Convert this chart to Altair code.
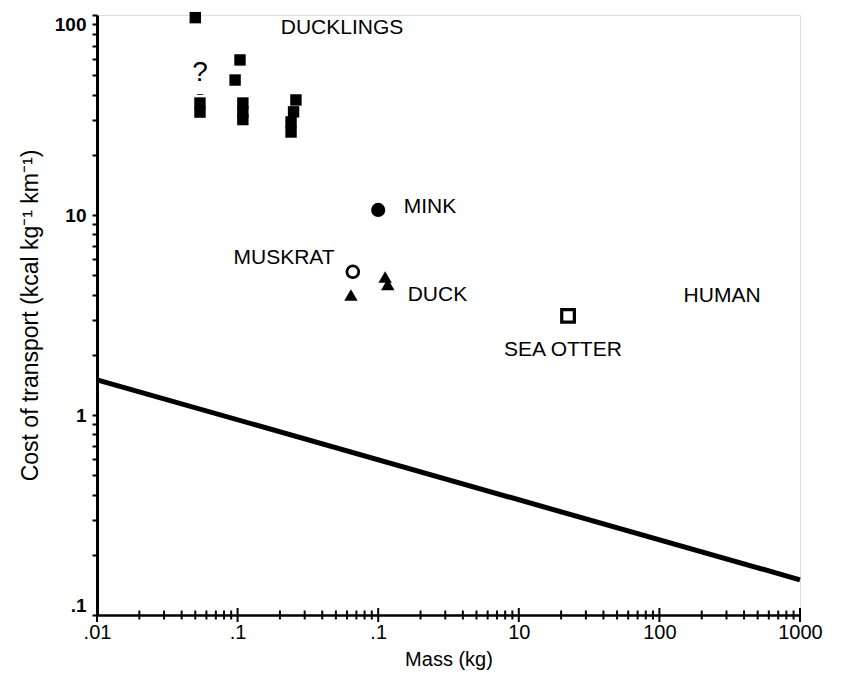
import altair as alt
import pandas as pd

# Ducklings (squares)
duck_x = [0.05, 0.104, 0.096, 0.054, 0.054, 0.109, 0.109, 0.109, 0.26, 0.25, 0.24, 0.24]
duck_y = [97, 59.6, 47.3, 36.3, 32.7, 36.3, 32.8, 30.0, 37.6, 32.8, 29.2, 26.0]

# Other species
mink_x, mink_y = [1.0], [10.6]
muskrat_x, muskrat_y = [0.66], [5.2]
duckad_x = [0.64, 1.12, 1.17]
duckad_y = [3.98, 4.9, 4.5]
otter_x, otter_y = [22.4], [3.13]

# Regression line
line_x = [0.01, 1000]
line_y = [1.5, 0.15]

# Labels
lab_text = ["DUCKLINGS", "MINK", "MUSKRAT", "DUCK", "SEA OTTER", "HUMAN"]
lab_x = [0.553, 1.52, 0.49, 1.62, 20.6, 279]
lab_y = [86.1, 11.0, 6.1, 3.98, 2.11, 3.94]
lab_align = ["center", "left", "right", "left", "center", "center"]

# Axis ticks
x_major = [0.01, 0.1, 1, 10, 100, 1000]
x_major_labels = [".01", ".1", ".1", "10", "100", "1000"]
y_major = [0.1, 1, 10, 100]
y_major_labels = [".1", "1", "10", "100"]
mult = [2, 3, 4, 5, 6, 7, 8, 9]

x_minor = [m * d for d in [0.01, 0.1, 1, 10, 100] for m in mult]
y_all = [m * d for d in [0.1, 1, 10] for m in [1] + mult] + [100]

def label_expr(vals, labs):
    parts = []
    for v, l in zip(vals, labs):
        parts.append(f"abs(datum.value - {v}) < {v}*1e-6 ? '{l}'")
    return " : ".join(parts) + " : ''"

FONT = "Liberation Sans"
xs = alt.Scale(type="log", domain=[0.01, 1000], nice=False)
ys = alt.Scale(type="log", domain=[0.1, 100], nice=False)

x_axis = alt.Axis(values=x_major, labelExpr=label_expr(x_major, x_major_labels),
                  title="Mass (kg)", grid=False, ticks=False, domain=True,
                  domainWidth=2.5, domainColor="black", labelFont=FONT, labelFontSize=20,
                  labelColor="black", labelPadding=7, titleFont=FONT, titleFontSize=20,
                  titleFontWeight="normal", titleColor="black", titlePadding=7,
                  labelFlush=False)
y_axis = alt.Axis(values=y_all, labelExpr=label_expr(y_major, y_major_labels),
                  title="Cost of transport (kcal kg⁻¹ km⁻¹)", grid=False,
                  tickSize=5, tickWidth=2, tickColor="black", domainWidth=3,
                  domainColor="black", labelFont=FONT, labelFontSize=19, labelFontWeight="bold",
                  labelColor="black", labelPadding=6, titleFont=FONT, titleFontSize=23,
                  titleFontWeight="normal", titleColor="black", titlePadding=12,
                  labelFlush=True)

df_line = pd.DataFrame({"x": line_x, "y": line_y})
line = alt.Chart(df_line).mark_line(color="black", strokeWidth=5).encode(
    x=alt.X("x:Q", scale=xs, axis=x_axis),
    y=alt.Y("y:Q", scale=ys, axis=y_axis),
)

# inward x ticks
tick_major = alt.Chart(pd.DataFrame({"xv": x_major})).mark_tick(
    color="black", orient="vertical", size=14, thickness=2, opacity=1).encode(
    x=alt.X("xv:Q", scale=xs), y=alt.value(600))
tick_minor = alt.Chart(pd.DataFrame({"xv": x_minor})).mark_tick(
    color="black", orient="vertical", size=9, thickness=2, opacity=1).encode(
    x=alt.X("xv:Q", scale=xs), y=alt.value(600))

df_duck = pd.DataFrame({"x": duck_x, "y": duck_y})
ducklings = alt.Chart(df_duck).mark_point(shape="square", filled=True, color="black",
                                          size=130, opacity=1).encode(
    x=alt.X("x:Q", scale=xs), y=alt.Y("y:Q", scale=ys))

mink = alt.Chart(pd.DataFrame({"x": mink_x, "y": mink_y})).mark_point(
    shape="circle", filled=True, color="black", size=200, opacity=1).encode(
    x=alt.X("x:Q", scale=xs), y=alt.Y("y:Q", scale=ys))

muskrat = alt.Chart(pd.DataFrame({"x": muskrat_x, "y": muskrat_y})).mark_point(
    shape="circle", filled=False, color="black", size=140, strokeWidth=2.8, opacity=1).encode(
    x=alt.X("x:Q", scale=xs), y=alt.Y("y:Q", scale=ys))

duckad = alt.Chart(pd.DataFrame({"x": duckad_x, "y": duckad_y})).mark_point(
    shape="triangle-up", filled=True, color="black", size=180, opacity=1).encode(
    x=alt.X("x:Q", scale=xs), y=alt.Y("y:Q", scale=ys))

otter = alt.Chart(pd.DataFrame({"x": otter_x, "y": otter_y})).mark_point(
    shape="square", filled=False, color="black", size=160, strokeWidth=3.2, opacity=1).encode(
    x=alt.X("x:Q", scale=xs), y=alt.Y("y:Q", scale=ys))

df_lab = pd.DataFrame({"t": lab_text, "x": lab_x, "y": lab_y, "a": lab_align})
texts = []
for al in ["left", "center", "right"]:
    sub = df_lab[df_lab["a"] == al]
    texts.append(alt.Chart(sub).mark_text(font=FONT, fontSize=21, color="black", align=al,
                                          baseline="middle").encode(
        x=alt.X("x:Q", scale=xs), y=alt.Y("y:Q", scale=ys), text="t:N"))

qmark = alt.Chart(pd.DataFrame({"x": [0.054], "y": [51], "t": ["?"]})).mark_text(
    font=FONT, fontSize=28, color="black", baseline="middle").encode(
    x=alt.X("x:Q", scale=xs), y=alt.Y("y:Q", scale=ys), text="t:N")
qdash = alt.Chart(pd.DataFrame({"x": [0.054], "y": [40.5], "t": ["–"]})).mark_text(
    font=FONT, fontSize=11, color="black", baseline="middle").encode(
    x=alt.X("x:Q", scale=xs), y=alt.Y("y:Q", scale=ys), text="t:N")

chart = alt.layer(line, tick_major, tick_minor, ducklings, mink, muskrat, duckad, otter,
                  *texts, qmark, qdash).properties(
    width=703, height=600,
    autosize=alt.AutoSizeParams(type="none"),
    padding={"left": 89, "top": 7, "right": 30, "bottom": 55},
).configure_view(stroke="black", strokeWidth=3).configure(background="white")

chart.save("out.html", embed_options={"renderer": "svg", "actions": False})
